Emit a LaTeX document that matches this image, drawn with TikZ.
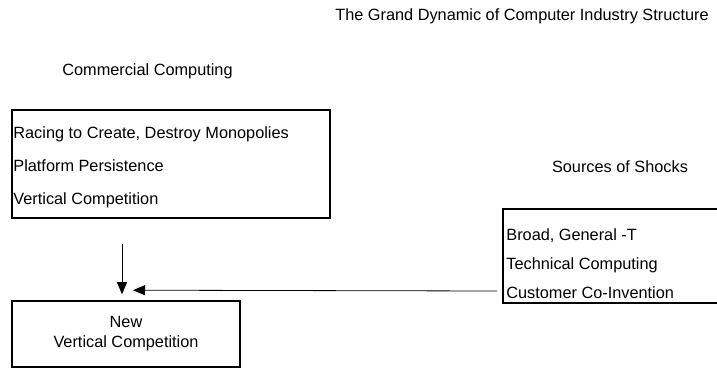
\documentclass[tikz,border=0pt]{standalone}
\usepackage{fontspec}
\setmainfont{Liberation Sans}
\usetikzlibrary{positioning,arrows.meta}

\begin{document}
\begin{tikzpicture}[x=1pt,y=1pt]
  \tikzstyle{box}=[rectangle, draw=black, line width=1.6pt, inner sep=0pt]
  \tikzstyle{caption}=[font=\fontsize{16.3}{18}\selectfont, inner sep=0pt]
  \tikzstyle{items}=[align=left, inner sep=0pt]
  \tikzstyle{connect}=[-{Triangle[length=12pt,width=10pt]}, line width=0.8pt]
  \useasboundingbox (0,0) rectangle (717,368);
  \clip (0,0) rectangle (717,368);
    \node[caption] (title) at (522,352) {The Grand Dynamic of Computer Industry Structure};
    \node[caption] (commercialLbl) at (147.5,297) {Commercial Computing};
    \node[caption] (shocksLbl) at (620,201) {Sources of Shocks};
    \node[box, minimum width=318, minimum height=108] (commercial) at (171,204) {};
    \node[box, minimum width=237, minimum height=94] (shocks) at (621.5,112) {};
    \node[box, minimum width=228, minimum height=66, align=center,
          font=\fontsize{16.3}{20}\selectfont] (newcomp) at (126,34) {New\\Vertical Competition};
    \node[items, font=\fontsize{16.3}{33}\selectfont, anchor=west, yshift=-3pt]
          (commercialTxt) [right=2pt of commercial.west]
          {Racing to Create, Destroy Monopolies\\Platform Persistence\\Vertical Competition};
    \node[items, font=\fontsize{16.3}{29}\selectfont, anchor=west, yshift=-8pt]
          (shocksTxt) [right=4pt of shocks.west]
          {Broad, General -T\\Technical Computing\\Customer Co-Invention};
    \coordinate[above right=10pt and 7pt of newcomp.north] (sideIn);
    \coordinate[above left=6pt and 4pt of newcomp.north] (topIn);
    \draw[connect] (commercial.south -| topIn) ++(0,-25) -- (topIn);
    \draw[connect] ([xshift=-5pt,yshift=-35pt]shocks.west) -- (sideIn);
  \end{tikzpicture}
\end{document}
